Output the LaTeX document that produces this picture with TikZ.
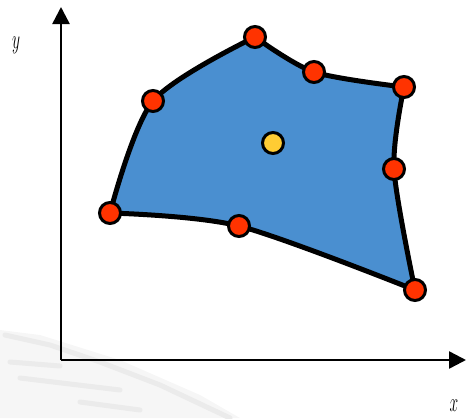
\documentclass[tikz,border=0pt]{standalone}
\usetikzlibrary{arrows.meta}
\definecolor{regionblue}{RGB}{74,143,208}
\definecolor{ptred}{RGB}{255,51,0}
\definecolor{ptyellow}{RGB}{255,204,51}
\tikzset{
  axisline/.style={line width=2.5pt,-{Triangle[length=17pt,width=17pt]}},
  vertexpt/.style={circle,draw=black,line width=3pt,fill=ptred,minimum size=21pt,inner sep=0pt},
  centerpt/.style={circle,draw=black,line width=3pt,fill=ptyellow,minimum size=21pt,inner sep=0pt},
  axislabel/.style={font=\fontsize{20}{20}\selectfont,yscale=1.3,xscale=0.75,inner sep=0pt}
}
\begin{document}
\begin{tikzpicture}[x=1pt,y=-1pt]
\useasboundingbox (0,0) rectangle (466,418);
% faint background trace
\fill[gray!7] (0,330) -- (40,335) -- (120,360) -- (200,395) -- (240,418) -- (0,418) -- cycle;
\begin{scope}[gray!16,line width=5pt,line cap=round]
\draw (5,335) -- (50,345) -- (100,362) -- (160,385) -- (230,418);
\draw (10,362) -- (60,366);
\draw (20,378) -- (120,390);
\draw (80,402) -- (140,410);
\end{scope}
% axes
\coordinate (O) at (61,360);
\coordinate (ytip) at (61,7);
\coordinate (xtip) at (466,360);
\draw[axisline] (O) -- (ytip);
\draw[axisline] (O) -- (xtip);
\node[axislabel] (ylab) at (16,45) {$y$};
\node[axislabel] (xlab) at (454,406) {$x$};
% region
\coordinate (p1) at (110,213);
\coordinate (p2) at (153,101);
\coordinate (p3) at (255,37);
\coordinate (p4) at (314,72);
\coordinate (p5) at (404,87);
\coordinate (p6) at (394,169);
\coordinate (p7) at (415,290);
\coordinate (p8) at (239,226);
\draw[fill=regionblue,line width=5pt,line join=round]
  plot[smooth] coordinates {(p1) (p2) (p3)}
  -- plot[smooth] coordinates {(p3) (p4) (p5)}
  -- plot[smooth] coordinates {(p5) (p6) (p7)}
  -- plot[smooth] coordinates {(p7) (p8) (p1)} -- cycle;
\foreach \p in {1,...,8} \node[vertexpt] (v\p) at (p\p) {};
\node[centerpt] (c) at (273,143) {};
\end{tikzpicture}
\end{document}
